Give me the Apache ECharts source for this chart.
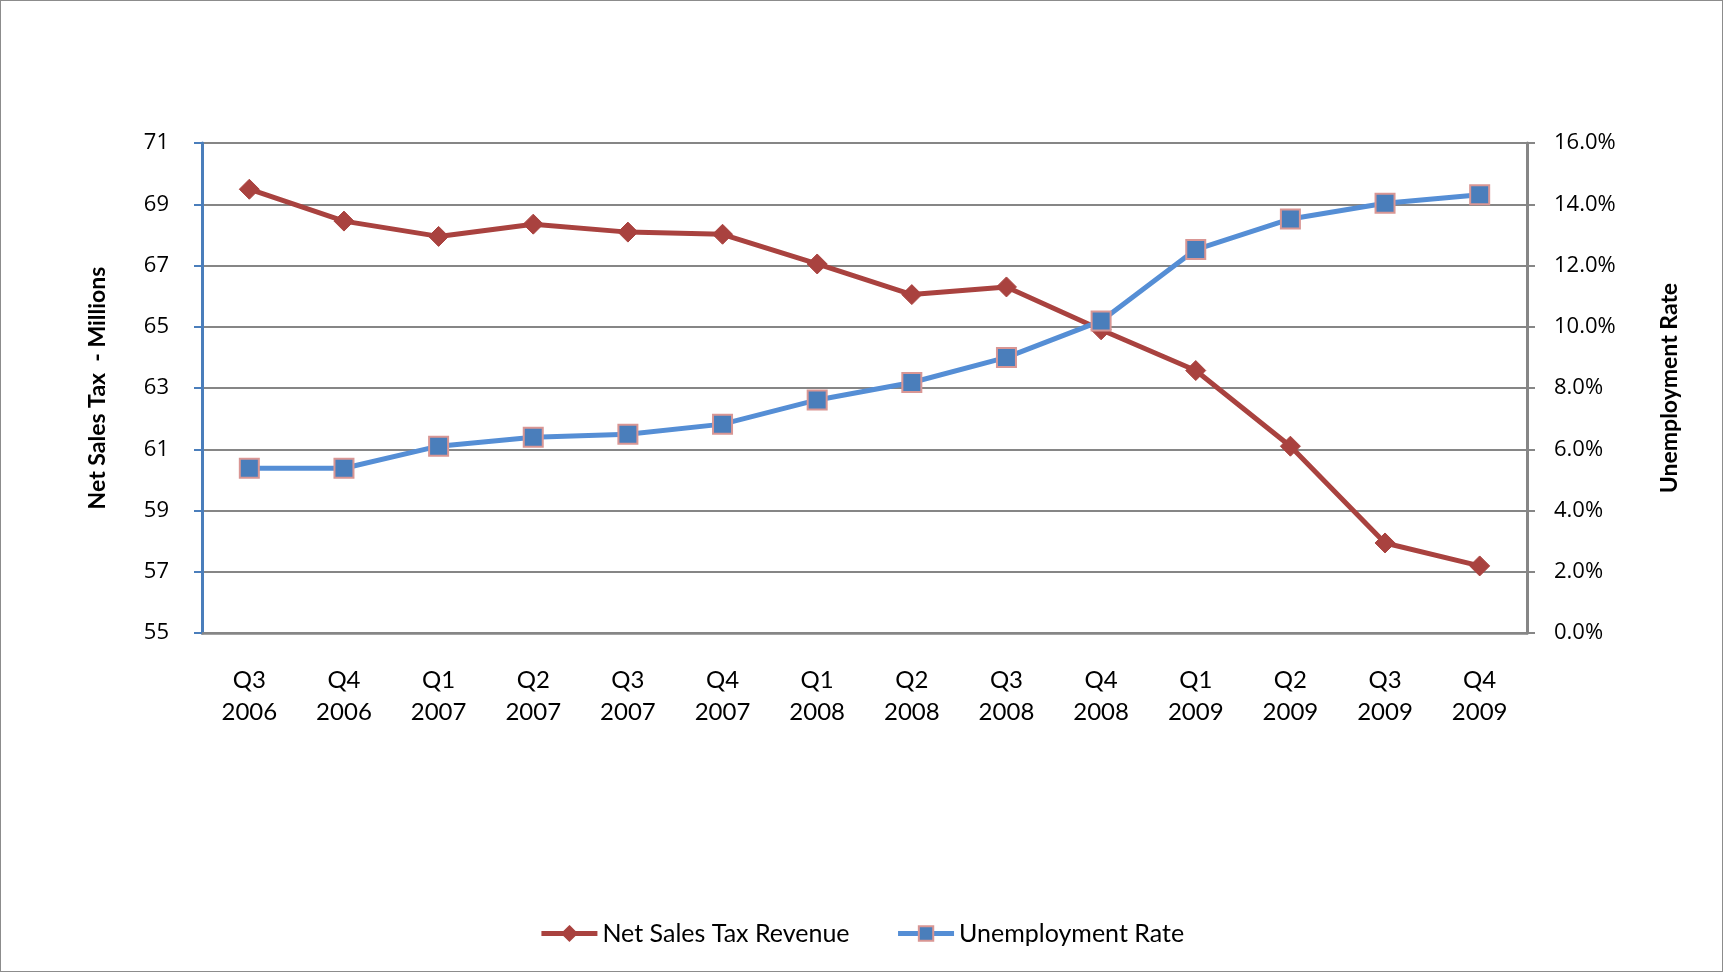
<!DOCTYPE html>
<html><head><meta charset="utf-8">
<script src="https://cdn.jsdelivr.net/npm/echarts@6/dist/echarts.min.js"></script>
<style>html,body{margin:0;padding:0;background:#fff}#c{width:1721px;height:970px;border:1px solid #8c8c8c}</style>
</head><body><div id="c"></div>
<script>
var categories = ['Q3\n2006','Q4\n2006','Q1\n2007','Q2\n2007','Q3\n2007','Q4\n2007','Q1\n2008','Q2\n2008','Q3\n2008','Q4\n2008','Q1\n2009','Q2\n2009','Q3\n2009','Q4\n2009'];
var netSalesTax = [69.49,68.45,67.95,68.35,68.09,68.02,67.05,66.05,66.30,64.90,63.57,61.10,57.94,57.19];
var unemploymentRate = [5.38,5.38,6.10,6.39,6.49,6.82,7.61,8.18,9.00,10.19,12.52,13.52,14.03,14.31];
var leftTicks = {min:55, max:71, interval:2};
var rightTicks = {min:0, max:16, interval:2};

var font = 'Lato, "Open Sans", sans-serif';
var tickFont = '"Open Sans", Lato, sans-serif';
var chart = echarts.init(document.getElementById('c'));
chart.setOption({
  animation:false,
  textStyle:{fontFamily:font},
  grid:{left:201, right:195, top:142, bottom:338, containLabel:false},
  legend:{
    bottom:20, left:'center', itemWidth:56, itemHeight:18, itemGap:46,
    lineStyle:{width:5},
    textStyle:{fontSize:25, color:'#000', fontFamily:font},
    data:['Net Sales Tax Revenue','Unemployment Rate']
  },
  xAxis:{
    type:'category', data:categories, boundaryGap:true,
    axisLine:{lineStyle:{color:'#868686', width:2.5}},
    axisTick:{show:false},
    axisLabel:{fontSize:24, color:'#000', lineHeight:32, margin:31, fontFamily:font}
  },
  yAxis:[
    {type:'value', min:leftTicks.min, max:leftTicks.max, interval:leftTicks.interval,
     name:'Net Sales Tax  - Millions', nameLocation:'middle', nameGap:93, nameRotate:90,
     nameTextStyle:{fontSize:23, fontWeight:'bold', color:'#000', fontFamily:font},
     axisLine:{show:true, lineStyle:{color:'#4a7ebb', width:3}},
     axisTick:{show:true, length:8, lineStyle:{color:'#4a7ebb', width:2}},
     axisLabel:{fontSize:22, color:'#000', margin:33, fontFamily:tickFont},
     splitLine:{show:true, lineStyle:{color:'#868686', width:2}}
    },
    {type:'value', min:rightTicks.min, max:rightTicks.max, interval:rightTicks.interval, position:'right',
     name:'Unemployment Rate', nameLocation:'middle', nameGap:131, nameRotate:90,
     nameTextStyle:{fontSize:23, fontWeight:'bold', color:'#000', fontFamily:font},
     axisLine:{show:true, lineStyle:{color:'#868686', width:3}},
     axisTick:{show:true, length:8, lineStyle:{color:'#868686', width:2}},
     axisLabel:{fontSize:22, color:'#000', margin:27, fontFamily:tickFont,
       formatter:function(v){return v.toFixed(1)+'%';}},
     splitLine:{show:false}
    }
  ],
  series:[
    {name:'Net Sales Tax Revenue', type:'line', yAxisIndex:0, data:netSalesTax,
     symbol:'diamond', symbolSize:20,
     lineStyle:{color:'#a9423f', width:5},
     itemStyle:{color:'#a9423f', borderColor:'#a9423f', borderWidth:1}},
    {name:'Unemployment Rate', type:'line', yAxisIndex:1, data:unemploymentRate,
     symbol:'rect', symbolSize:19,
     lineStyle:{color:'#558ed5', width:5},
     itemStyle:{color:'#4a7ebb', borderColor:'#d99694', borderWidth:2}}
  ]
});
</script></body></html>
